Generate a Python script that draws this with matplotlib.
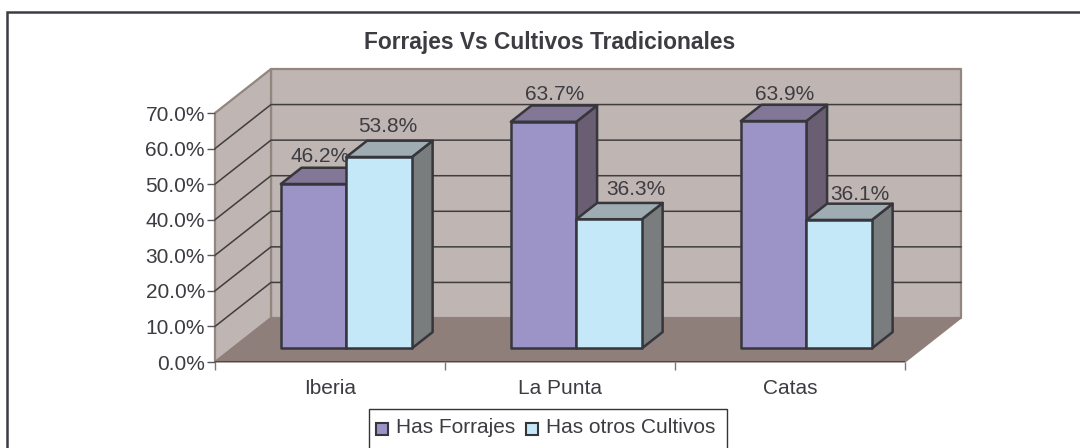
import matplotlib
matplotlib.use("Agg")
import matplotlib.pyplot as plt
from matplotlib.patches import Polygon, Rectangle

categories = ["Iberia", "La Punta", "Catas"]
forrajes = [46.2, 63.7, 63.9]
otros = [53.8, 36.3, 36.1]
y_ticks = [0, 10, 20, 30, 40, 50, 60, 70]

W, H = 1080, 448
TEXT = "#3c3c42"
EDGE = "#36363c"
plt.rcParams["font.family"] = ["Liberation Sans", "DejaVu Sans"]

fig = plt.figure(figsize=(W / 100, H / 100), dpi=100)
# axes is the front plane of the 3d box
ax = fig.add_axes([215 / W, 1 - 362 / H, 690 / W, 249 / H])
ax.set_xlim(0, 3)
ax.set_ylim(0, 70)
ax.patch.set_alpha(0)
for s in ax.spines.values():
    s.set_visible(False)

# depth of the box, in data units
DX = 56 / 230
DY = 44 / (249 / 70)
PX_X = 3 / 690
PX_Y = 70 / 249


def poly(pts, fc, ec=EDGE, lw=1.8, z=2):
    ax.add_patch(Polygon(pts, closed=True, fc=fc, ec=ec, lw=lw, zorder=z,
                         clip_on=False, joinstyle="round"))


# walls
wall_ec = "#93867f"
poly([(DX, DY), (3 + DX, DY), (3 + DX, 70 + DY), (DX, 70 + DY)], "#bfb5b2", wall_ec, 1.6, 1)
poly([(0, 0), (DX, DY), (DX, 70 + DY), (0, 70)], "#bfb5b2", wall_ec, 1.6, 1)
poly([(0, 0), (3, 0), (3 + DX, DY), (DX, DY)], "#8e7f7a", "#8e7f7a", 1, 1.2)

for v in y_ticks[1:-1]:
    ax.plot([0, DX, 3 + DX], [v, v + DY, v + DY], color="#3f3d3e", lw=1.1, zorder=1.5, clip_on=False)
ax.plot([0, 3], [0, 0], color="#4a4648", lw=1.4, zorder=1.6)


def bar3d(x0, x1, v, front, top, side):
    # bar stands inside the box, not on the front plane
    d0, d1 = 0.31, 0.68
    bx0, bx1 = x0 + d0 * DX, x1 + d0 * DX
    by = d0 * DY
    mx, my = (d1 - d0) * DX, (d1 - d0) * DY
    poly([(bx1, by), (bx1 + mx, by + my), (bx1 + mx, by + v + my), (bx1, by + v)], side)
    poly([(bx0, by + v), (bx1, by + v), (bx1 + mx, by + v + my), (bx0 + mx, by + v + my)], top)
    poly([(bx0, by), (bx1, by), (bx1, by + v), (bx0, by + v)], front)
    return bx0, bx1, by + v + my


# nudges for the value labels, in pixels
left_nudge = [(6, 0), (11, 0), (11, -1)]
right_nudge = [(8.5, 3), (27, 3), (21, -2)]

BW = 0.285
for i, (a, b) in enumerate(zip(forrajes, otros)):
    c = i + 0.5 - 1 * PX_X
    l0, l1, ltop = bar3d(c - BW, c, a, "#9c94c6", "#837797", "#6a5e72")
    r0, r1, rtop = bar3d(c, c + BW, b, "#c5e8f9", "#9fadb2", "#797d7e")
    ax.text((l0 + l1) / 2 + left_nudge[i][0] * PX_X, ltop + 0.4 + left_nudge[i][1] * PX_Y,
            f"{a:.1f}%", ha="center", va="bottom", fontsize=15, color=TEXT,
            zorder=2.5 if i == 0 else 3, clip_on=False)
    ax.text((r0 + r1) / 2 + right_nudge[i][0] * PX_X, rtop + 0.4 + right_nudge[i][1] * PX_Y,
            f"{b:.1f}%", ha="center", va="bottom", fontsize=15, color=TEXT,
            zorder=3, clip_on=False)

ax.set_yticks(y_ticks, [f"{v:.1f}%" for v in y_ticks])
ax.set_xticks([0, 1, 2, 3], [])
ax.set_xticks([0.5, 1.5, 2.5], categories, minor=True)
ax.tick_params(axis="y", labelsize=15, labelcolor=TEXT, color="#55555a", length=6, width=1, pad=1.2)
ax.tick_params(axis="x", which="major", color="#77777a", length=6, width=1)
ax.tick_params(axis="x", which="minor", length=0, labelsize=15, labelcolor=TEXT, pad=12)

fig.text(550 / W, 1 - 42.5 / H, "Forrajes Vs Cultivos Tradicionales", ha="center", va="center",
         fontsize=16.4, fontweight="bold", color=TEXT)

# frame of the chart area, runs off the right and bottom of the image
fig.add_artist(plt.Line2D([6.5 / W, 6.5 / W, 1], [0, 1 - 12 / H, 1 - 12 / H],
                          color="#3c3c42", lw=1.8, solid_joinstyle="miter"))

# legend, its box is cut off by the bottom of the image
fig.add_artist(Rectangle((368.5 / W, -5 / H), 358 / W, (448 - 409 + 5) / H, transform=fig.transFigure,
                         fc="white", ec="#333338", lw=1))
fig.add_artist(Rectangle((376 / W, 1 - 434.5 / H), 12 / W, 12 / H, transform=fig.transFigure,
                         fc="#9c94c6", ec=EDGE, lw=1.5))
fig.text(396 / W, 1 - 427 / H, "Has Forrajes", va="center", fontsize=15, color=TEXT)
fig.add_artist(Rectangle((526 / W, 1 - 434.5 / H), 12 / W, 12 / H, transform=fig.transFigure,
                         fc="#c5e8f9", ec=EDGE, lw=1.5))
fig.text(546 / W, 1 - 427 / H, "Has otros Cultivos", va="center", fontsize=15, color=TEXT)

fig.savefig("out.png", dpi=100, facecolor="white")
